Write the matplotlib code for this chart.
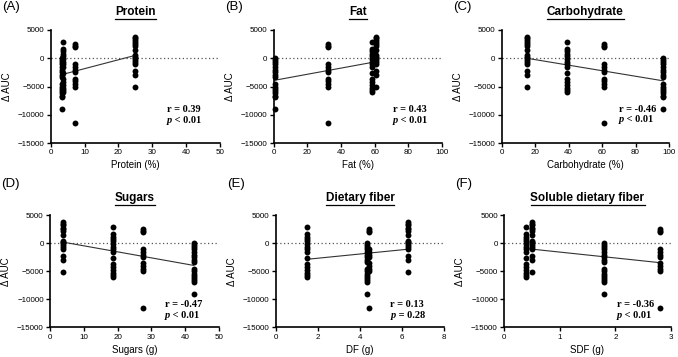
import numpy as np
import matplotlib
matplotlib.use("Agg")
import matplotlib.pyplot as plt
from matplotlib.lines import Line2D

# ---- data (4 test meals, ΔAUC of each subject) ----
auc_A = [0, -300, -700, -1100, -1600, -2000, -2500, -2900, -3300, -4600, -5000, -5400, -5800, -6200, -6600, -6900, -9000]
auc_B = [2500, 2200, 2000, -1100, -1500, -2000, -2500, -3600, -4100, -4600, -5000, -11500]
auc_C = [2900, 1600, 1200, 800, 350, -100, -600, -1000, -1600, -2600, -3700, -4200, -4800, -5300, -5700, -6000]
auc_D = [3800, 3500, 3200, 2800, 2500, 2200, 1400, 500, 200, 0, -300, -700, -1000, -2200, -3000, -5100]

# nutrient content of each meal (A, B, C, D)
protein = [3.4, 7.1, 3.7, 24.8]
fat = [0.8, 32.0, 58.2, 60.6]
carbohydrate = [96.6, 61.1, 38.9, 15.3]
sugars = [42.5, 27.6, 18.7, 3.9]
dietary_fiber = [4.31, 4.42, 1.50, 6.27]
soluble_fiber = [1.79, 2.80, 0.40, 0.51]

titles = ["Protein", "Fat", "Carbohydrate", "Sugars", "Dietary fiber", "Soluble dietary fiber"]
panel_labels = ["(A)", "(B)", "(C)", "(D)", "(E)", "(F)"]
xlabels = ["Protein (%)", "Fat (%)", "Carbohydrate (%)", "Sugars (g)", "DF (g)", "SDF (g)"]
xlims = [50, 100, 100, 50, 8, 3]
xticks = [[0, 10, 20, 30, 40, 50], [0, 20, 40, 60, 80, 100], [0, 20, 40, 60, 80, 100],
          [0, 10, 20, 30, 40, 50], [0, 2, 4, 6, 8], [0, 1, 2, 3]]
r_text = ["r = 0.39", "r = 0.43", "r = -0.46", "r = -0.47", "r = 0.13", "r = -0.36"]
p_text = ["< 0.01", "< 0.01", "< 0.01", "< 0.01", "= 0.28", "< 0.01"]
yticks = [5000, 0, -5000, -10000, -15000]

nutrients = [protein, fat, carbohydrate, sugars, dietary_fiber, soluble_fiber]
groups = [auc_A, auc_B, auc_C, auc_D]

W, H = 678, 357
fig = plt.figure(figsize=(W / 100, H / 100), dpi=100)

# axes boxes in pixels: (left, right, top, bottom)
boxes = [(50.7, 220, 30, 143), (273.7, 442, 30, 143), (501.7, 669, 30, 143),
         (50, 219, 215.3, 327.3), (275.7, 444.3, 215.3, 327.3), (504, 671, 215.3, 327.3)]
# stat text positions (axes fraction): x, y of r line, y of p line
stat_pos = [(0.685, 0.30, 0.195), (0.71, 0.30, 0.195), (0.70, 0.30, 0.21),
            (0.68, 0.20, 0.107), (0.68, 0.20, 0.107), (0.675, 0.20, 0.107)]
title_dy = [18.3, 18.3, 18.3, 17.3, 17.3, 17.3]
label_dy = [23.3, 23.3, 23.3, 31.3, 31.3, 31.3]

sans = "Liberation Sans"
serif = "Liberation Serif"

title_items = []
for i in range(6):
    l, r, t, b = boxes[i]
    ax = fig.add_axes([l / W, 1 - b / H, (r - l) / W, (b - t) / H])
    xs, ys = [], []
    for g, vals in enumerate(groups):
        xs += [nutrients[i][g]] * len(vals)
        ys += vals
    xs = np.array(xs)
    ys = np.array(ys)
    ax.axhline(0, color="#555555", lw=0.9, ls=(0, (1, 2)), zorder=1)
    ax.scatter(xs, ys, s=18, color="black", zorder=3, linewidths=0, clip_on=False)
    k, c = np.polyfit(xs, ys, 1)
    xl = np.array([xs.min(), xs.max()])
    ax.plot(xl, k * xl + c, color="#333333", lw=0.8, zorder=2)
    ax.set_xlim(0, xlims[i])
    ax.set_ylim(-15000, 5000)
    ax.set_xticks(xticks[i])
    ax.set_yticks(yticks)
    ax.set_yticklabels([str(v).replace("-", "\u2212") for v in yticks])
    for s in ["top", "right"]:
        ax.spines[s].set_visible(False)
    for s in ["left", "bottom"]:
        ax.spines[s].set_linewidth(1.2)
    ax.tick_params(axis="both", direction="out", length=3, width=1.0, labelsize=5.8, pad=1.5)
    for lab in ax.get_xticklabels() + ax.get_yticklabels():
        lab.set_fontfamily(sans)
    ax.set_xlabel(xlabels[i], fontsize=7, fontfamily=sans, labelpad=3)
    ax.set_ylabel("\u0394 AUC", fontsize=7, fontfamily=sans, labelpad=4)
    sx, ry, py = stat_pos[i]
    ax.text(sx, ry, r_text[i], transform=ax.transAxes, fontsize=7.5, fontfamily=serif,
            fontweight="bold", va="center")
    pt = ax.text(sx, py, "p", transform=ax.transAxes, fontsize=7.5, fontfamily=serif,
                 fontweight="bold", fontstyle="italic", va="center")
    ax.annotate(" " + p_text[i], xy=(1, 0.5), xycoords=pt, va="center", ha="left",
                fontsize=7.5, fontfamily=serif, fontweight="bold")
    # titles
    cx = (l + r) / 2
    ty = t - title_dy[i]
    tt = fig.text(cx / W, 1 - ty / H, titles[i], fontsize=8.5, fontweight="bold",
                  fontfamily=sans, ha="center", va="center")
    title_items.append(tt)
    # panel label
    fig.text((l - 49) / W, 1 - (t - label_dy[i]) / H, panel_labels[i], fontsize=9.5,
             fontfamily=sans, ha="left", va="center")

fig.canvas.draw()
renderer = fig.canvas.get_renderer()
for tt in title_items:
    bb = tt.get_window_extent(renderer)
    y = bb.y0 - 1.0
    fig.add_artist(Line2D([bb.x0 / W, bb.x1 / W], [y / H, y / H], color="black", lw=0.9,
                          transform=fig.transFigure))

fig.savefig("out.png", dpi=100)
